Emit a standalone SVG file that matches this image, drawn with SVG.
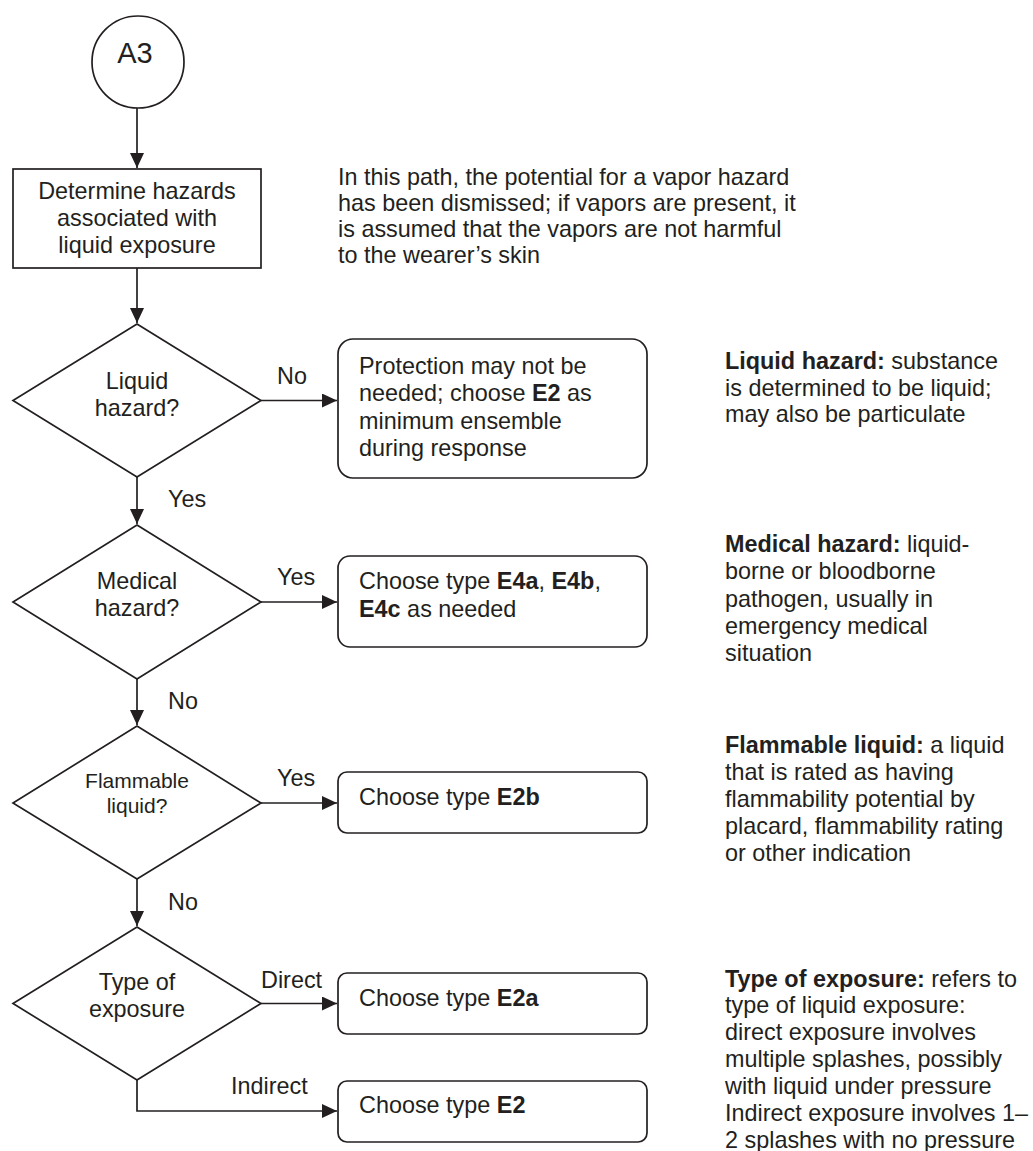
<svg xmlns="http://www.w3.org/2000/svg" width="1033" height="1151" viewBox="0 0 1033 1151">
<style>
text{font-family:"Liberation Sans",Arial,sans-serif;font-size:23.4px;fill:#231f20}
.c{text-anchor:middle}
.sm{font-size:21px}
.b{font-weight:bold}
.shape{fill:#fff;stroke:#231f20;stroke-width:1.7}
.conn{fill:none;stroke:#231f20;stroke-width:1.7}
</style>
<defs>
<marker id="arr" markerUnits="userSpaceOnUse" markerWidth="16" markerHeight="16" refX="15" refY="7" orient="auto">
<path d="M0,0 L15,7 L0,14 z" fill="#231f20"/>
</marker>
</defs>
<rect width="1033" height="1151" fill="#fff"/>
<g id="connectors">
<path class="conn" d="M137,108 V168" marker-end="url(#arr)"/>
<path class="conn" d="M137,268 V323" marker-end="url(#arr)"/>
<path class="conn" d="M137,477 V524" marker-end="url(#arr)"/>
<path class="conn" d="M137,679 V725" marker-end="url(#arr)"/>
<path class="conn" d="M137,879 V926" marker-end="url(#arr)"/>
<path class="conn" d="M261,400.5 H337" marker-end="url(#arr)"/>
<path class="conn" d="M261,602 H337" marker-end="url(#arr)"/>
<path class="conn" d="M261,803 H337" marker-end="url(#arr)"/>
<path class="conn" d="M261,1003.5 H337" marker-end="url(#arr)"/>
<path class="conn" d="M137,1080 V1111 H337" marker-end="url(#arr)"/>
<text x="277" y="384">No</text>
<text x="168" y="507">Yes</text>
<text x="277" y="585">Yes</text>
<text x="168" y="709">No</text>
<text x="277" y="786">Yes</text>
<text x="168" y="910">No</text>
<text x="261" y="988">Direct</text>
<text x="231" y="1094">Indirect</text>
</g>
<g id="start">
<circle class="shape" cx="138" cy="62" r="46"/>
<text class="c" x="135" y="63" style="font-size:29px">A3</text>
</g>
<g id="determine">
<rect class="shape" x="13" y="169" width="248" height="99"/>
<text class="c" x="137" y="199">Determine hazards</text>
<text class="c" x="137" y="226">associated with</text>
<text class="c" x="137" y="253">liquid exposure</text>
</g>
<g id="note-path">
<text x="338" y="185">In this path, the potential for a vapor hazard</text>
<text x="338" y="211">has been dismissed; if vapors are present, it</text>
<text x="338" y="237">is assumed that the vapors are not harmful</text>
<text x="338" y="263">to the wearer’s skin</text>
</g>
<g id="d-liquid">
<polygon class="shape" points="137,324 261,400.5 137,477 13,400.5"/>
<text class="c" x="137" y="389">Liquid</text>
<text class="c" x="137" y="416">hazard?</text>
</g>
<g id="b-e2min">
<rect class="shape" x="338" y="339" width="309" height="139" rx="15"/>
<text x="359" y="374">Protection may not be</text>
<text x="359" y="401">needed; choose <tspan class="b">E2</tspan> as</text>
<text x="359" y="429">minimum ensemble</text>
<text x="359" y="456">during response</text>
</g>
<g id="d-medical">
<polygon class="shape" points="137,525 261,602 137,679 13,602"/>
<text class="c" x="137" y="589">Medical</text>
<text class="c" x="137" y="616">hazard?</text>
</g>
<g id="b-e4">
<rect class="shape" x="338" y="556" width="309" height="91" rx="12"/>
<text x="359" y="589">Choose type <tspan class="b">E4a</tspan>, <tspan class="b">E4b</tspan>,</text>
<text x="359" y="617"><tspan class="b">E4c</tspan> as needed</text>
</g>
<g id="d-flammable">
<polygon class="shape" points="137,726 261,803 137,879 13,803"/>
<text class="c sm" x="137" y="788">Flammable</text>
<text class="c sm" x="137" y="813">liquid?</text>
</g>
<g id="b-e2b">
<rect class="shape" x="338" y="772" width="309" height="61" rx="9"/>
<text x="359" y="805">Choose type <tspan class="b">E2b</tspan></text>
</g>
<g id="d-exposure">
<polygon class="shape" points="137,927 261,1003.5 137,1080 13,1003.5"/>
<text class="c" x="137" y="990">Type of</text>
<text class="c" x="137" y="1017">exposure</text>
</g>
<g id="b-e2a">
<rect class="shape" x="338" y="973" width="309" height="61" rx="9"/>
<text x="359" y="1006">Choose type <tspan class="b">E2a</tspan></text>
</g>
<g id="b-e2">
<rect class="shape" x="338" y="1081" width="309" height="61" rx="9"/>
<text x="359" y="1113">Choose type <tspan class="b">E2</tspan></text>
</g>
<g id="note-liquid">
<text x="725" y="369"><tspan class="b">Liquid hazard:</tspan> substance</text>
<text x="725" y="396">is determined to be liquid;</text>
<text x="725" y="422">may also be particulate</text>
</g>
<g id="note-medical">
<text x="725" y="552"><tspan class="b">Medical hazard:</tspan> liquid-</text>
<text x="725" y="579">borne or bloodborne</text>
<text x="725" y="607">pathogen, usually in</text>
<text x="725" y="634">emergency medical</text>
<text x="725" y="661">situation</text>
</g>
<g id="note-flammable">
<text x="725" y="753"><tspan class="b">Flammable liquid:</tspan> a liquid</text>
<text x="725" y="780">that is rated as having</text>
<text x="725" y="807">flammability potential by</text>
<text x="725" y="834">placard, flammability rating</text>
<text x="725" y="861">or other indication</text>
</g>
<g id="note-exposure">
<text x="725" y="987"><tspan class="b">Type of exposure:</tspan> refers to</text>
<text x="725" y="1013">type of liquid exposure:</text>
<text x="725" y="1040">direct exposure involves</text>
<text x="725" y="1067">multiple splashes, possibly</text>
<text x="725" y="1094">with liquid under pressure</text>
<text x="725" y="1121">Indirect exposure involves 1–</text>
<text x="725" y="1148">2 splashes with no pressure</text>
</g>
</svg>
